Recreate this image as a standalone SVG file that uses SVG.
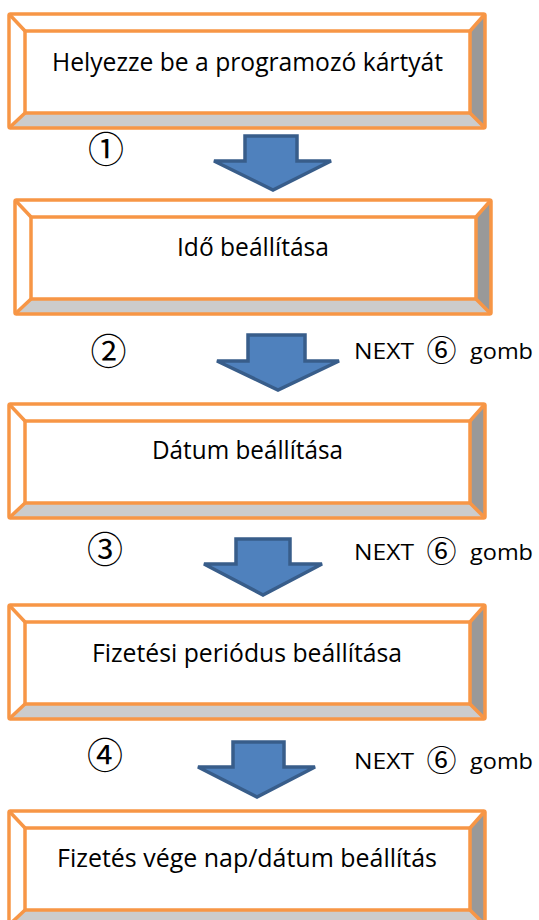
<svg xmlns="http://www.w3.org/2000/svg" xmlns:xlink="http://www.w3.org/1999/xlink" width="539" height="920" viewBox="0 0 539 920">
<style>
.face-top{fill:#ffffff}
.face-left{fill:#ffffff}
.face-right{fill:#999999}
.face-bottom{fill:#cccccc}
.edge{fill:none;stroke:#F79646;stroke-width:3.5;stroke-linejoin:round}
.lbl{font-family:"Open Sans","Liberation Sans",sans-serif;font-size:26px;fill:#000;text-anchor:middle}
.num{font-family:"Noto Sans CJK JP",sans-serif;font-size:36px;fill:#000;text-anchor:middle}
.next{font-family:"Open Sans","Liberation Sans",sans-serif;font-size:22px;fill:#000}
.circ{font-family:"Noto Sans CJK JP",sans-serif;font-size:30px;fill:#000;text-anchor:middle}
.arrow{fill:#4F81BD;stroke:#385D8A;stroke-width:3.5;stroke-linejoin:miter}
</style>
<defs>
<g id="bevel">
<polygon class="face-top" points="0,0 476,0 461,17 16,17"/>
<polygon class="face-left" points="0,0 16,17 16,99 0,114"/>
<polygon class="face-right" points="476,0 476,114 461,99 461,17"/>
<polygon class="face-bottom" points="0,114 16,99 461,99 476,114"/>
<rect x="16" y="17" width="445" height="82" fill="#ffffff"/>
<rect class="edge" x="0" y="0" width="476" height="114" rx="1.5"/>
<rect class="edge" x="16" y="17" width="445" height="82"/>
<path class="edge" d="M0,0 L16,17 M476,0 L461,17 M476,114 L461,99 M0,114 L16,99"/>
</g>
</defs>
<g id="connectors">
<polygon class="arrow" points="245,136 297,136 297,161 331,161 273,190 214,161 245,161"/>
<polygon class="arrow" points="248,335 305,335 305,361 339,361 278,390 217,361 248,361"/>
<polygon class="arrow" points="236,539 290,539 290,564 322,564 263,595 204,564 236,564"/>
<polygon class="arrow" points="233,742 284,742 284,767 315,767 257,797 198,767 233,767"/>
</g>
<g id="box1">
<use xlink:href="#bevel" x="9" y="14"/>
<text class="lbl" x="247.5" y="71" textLength="391" lengthAdjust="spacingAndGlyphs">Helyezze be a programozó kártyát</text>
</g>
<g id="box2">
<use xlink:href="#bevel" x="15" y="200"/>
<text class="lbl" x="253" y="256" textLength="152" lengthAdjust="spacingAndGlyphs">Idő beállítása</text>
</g>
<g id="box3">
<use xlink:href="#bevel" x="9" y="404"/>
<text class="lbl" x="247.5" y="459" textLength="191" lengthAdjust="spacingAndGlyphs">Dátum beállítása</text>
</g>
<g id="box4">
<use xlink:href="#bevel" x="9" y="605"/>
<text class="lbl" x="247" y="662" textLength="310" lengthAdjust="spacingAndGlyphs">Fizetési periódus beállítása</text>
</g>
<g id="box5">
<use xlink:href="#bevel" x="9" y="811"/>
<text class="lbl" x="247" y="867" textLength="380" lengthAdjust="spacingAndGlyphs">Fizetés vége nap/dátum beállítás</text>
</g>
<g id="labels">
<text class="num" x="106" y="163">①</text>
<text class="num" x="108.5" y="365">②</text>
<text class="num" x="105" y="563">③</text>
<text class="num" x="105" y="769">④</text>
<text class="next" x="354" y="359" textLength="60" lengthAdjust="spacingAndGlyphs">NEXT</text>
<text class="circ" x="441.5" y="361">⑥</text>
<text class="next" x="470" y="359" textLength="63" lengthAdjust="spacingAndGlyphs">gomb</text>
<text class="next" x="354" y="560" textLength="60" lengthAdjust="spacingAndGlyphs">NEXT</text>
<text class="circ" x="441.5" y="562">⑥</text>
<text class="next" x="470" y="560" textLength="63" lengthAdjust="spacingAndGlyphs">gomb</text>
<text class="next" x="354" y="769" textLength="60" lengthAdjust="spacingAndGlyphs">NEXT</text>
<text class="circ" x="441.5" y="771">⑥</text>
<text class="next" x="470" y="769" textLength="63" lengthAdjust="spacingAndGlyphs">gomb</text>
</g>
</svg>
